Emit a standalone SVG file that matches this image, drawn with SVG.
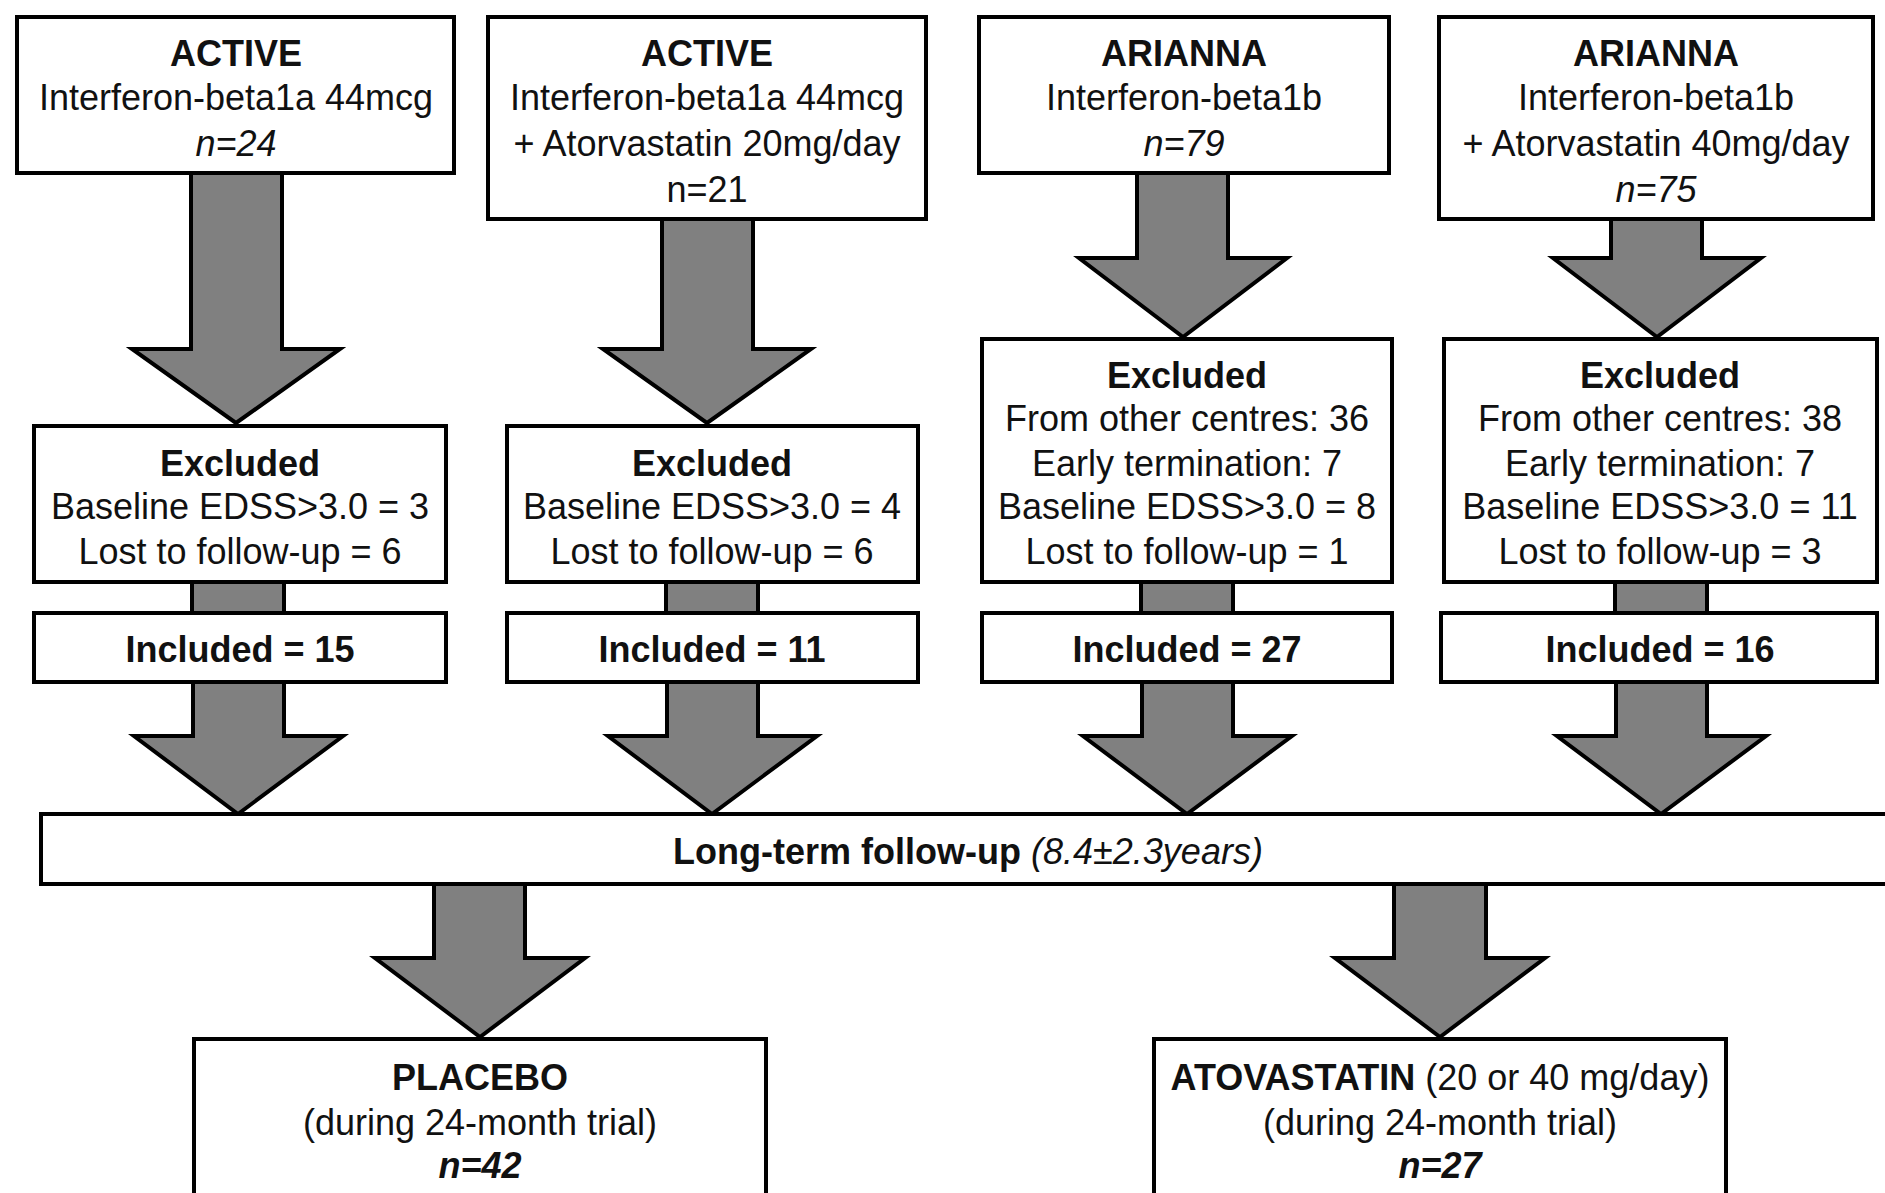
<svg xmlns="http://www.w3.org/2000/svg" width="1885" height="1193" viewBox="0 0 1885 1193">
<style>
.box{fill:#fff;stroke:#000;stroke-width:4}
.arr{fill:#808080;stroke:#000;stroke-width:4;stroke-linejoin:miter}
text{font-family:"Liberation Sans",Arial,sans-serif;font-size:36px;fill:#111;text-anchor:middle}
.b{font-weight:bold}
.i{font-style:italic}
</style>
<rect width="1885" height="1193" fill="#fff"/>
<g id="connectors">
<polygon class="arr" points="191,171 282,171 282,349 340,349 236,423 132,349 191,349"/>
<polygon class="arr" points="662,217 753,217 753,349 811,349 707,423 603,349 662,349"/>
<polygon class="arr" points="1137,171 1228,171 1228,258 1287,258 1183,337 1079,258 1137,258"/>
<polygon class="arr" points="1611,217 1702,217 1702,258 1761,258 1657,337 1553,258 1611,258"/>
<rect class="arr" x="192" y="580" width="92" height="35"/>
<rect class="arr" x="666" y="580" width="92" height="35"/>
<rect class="arr" x="1141" y="580" width="92" height="35"/>
<rect class="arr" x="1615" y="580" width="92" height="35"/>
<polygon class="arr" points="193,680 284,680 284,736 343,736 238,814 134,736 193,736"/>
<polygon class="arr" points="667,680 758,680 758,736 817,736 712,814 608,736 667,736"/>
<polygon class="arr" points="1142,680 1233,680 1233,736 1292,736 1187,814 1083,736 1142,736"/>
<polygon class="arr" points="1616,680 1707,680 1707,736 1766,736 1661,814 1557,736 1616,736"/>
<polygon class="arr" points="434,882 525,882 525,958 585,958 480,1037 375,958 434,958"/>
<polygon class="arr" points="1394,882 1486,882 1486,958 1545,958 1440,1037 1335,958 1394,958"/>
</g>
<g id="n1">
<rect class="box" x="17" y="17" width="437" height="156"/>
<text x="236" y="66" class="b">ACTIVE</text>
<text x="236" y="110">Interferon-beta1a 44mcg</text>
<text x="236" y="156" class="i">n=24</text>
</g>
<g id="n2">
<rect class="box" x="488" y="17" width="438" height="202"/>
<text x="707" y="66" class="b">ACTIVE</text>
<text x="707" y="110">Interferon-beta1a 44mcg</text>
<text x="707" y="156">+ Atorvastatin 20mg/day</text>
<text x="707" y="202">n=21</text>
</g>
<g id="n3">
<rect class="box" x="979" y="17" width="410" height="156"/>
<text x="1184" y="66" class="b">ARIANNA</text>
<text x="1184" y="110">Interferon-beta1b</text>
<text x="1184" y="156" class="i">n=79</text>
</g>
<g id="n4">
<rect class="box" x="1439" y="17" width="434" height="202"/>
<text x="1656" y="66" class="b">ARIANNA</text>
<text x="1656" y="110">Interferon-beta1b</text>
<text x="1656" y="156">+ Atorvastatin 40mg/day</text>
<text x="1656" y="202" class="i">n=75</text>
</g>
<g id="e1">
<rect class="box" x="34" y="426" width="412" height="156"/>
<text x="240" y="476" class="b">Excluded</text>
<text x="240" y="519">Baseline EDSS&gt;3.0 = 3</text>
<text x="240" y="564">Lost to follow-up = 6</text>
</g>
<g id="e2">
<rect class="box" x="507" y="426" width="411" height="156"/>
<text x="712" y="476" class="b">Excluded</text>
<text x="712" y="519">Baseline EDSS&gt;3.0 = 4</text>
<text x="712" y="564">Lost to follow-up = 6</text>
</g>
<g id="e3">
<rect class="box" x="982" y="339" width="410" height="243"/>
<text x="1187" y="388" class="b">Excluded</text>
<text x="1187" y="431">From other centres: 36</text>
<text x="1187" y="476">Early termination: 7</text>
<text x="1187" y="519">Baseline EDSS&gt;3.0 = 8</text>
<text x="1187" y="564">Lost to follow-up = 1</text>
</g>
<g id="e4">
<rect class="box" x="1444" y="339" width="433" height="243"/>
<text x="1660" y="388" class="b">Excluded</text>
<text x="1660" y="431">From other centres: 38</text>
<text x="1660" y="476">Early termination: 7</text>
<text x="1660" y="519">Baseline EDSS&gt;3.0 = 11</text>
<text x="1660" y="564">Lost to follow-up = 3</text>
</g>
<g id="i1">
<rect class="box" x="34" y="613" width="412" height="69"/>
<text x="240" y="662" class="b">Included = 15</text>
</g>
<g id="i2">
<rect class="box" x="507" y="613" width="411" height="69"/>
<text x="712" y="662" class="b">Included = 11</text>
</g>
<g id="i3">
<rect class="box" x="982" y="613" width="410" height="69"/>
<text x="1187" y="662" class="b">Included = 27</text>
</g>
<g id="i4">
<rect class="box" x="1441" y="613" width="436" height="69"/>
<text x="1660" y="662" class="b">Included = 16</text>
</g>
<g id="lt">
<rect class="box" x="41" y="814" width="1860" height="70"/>
<text x="968" y="864"><tspan class="b">Long-term follow-up </tspan><tspan class="i">(8.4±2.3years)</tspan></text>
</g>
<g id="placebo">
<rect class="box" x="194" y="1039" width="572" height="170"/>
<text x="480" y="1090" class="b">PLACEBO</text>
<text x="480" y="1135">(during 24-month trial)</text>
<text x="480" y="1178" class="b i">n=42</text>
</g>
<g id="atorva">
<rect class="box" x="1154" y="1039" width="572" height="170"/>
<text x="1440" y="1090"><tspan class="b">ATOVASTATIN</tspan> (20 or 40 mg/day)</text>
<text x="1440" y="1135">(during 24-month trial)</text>
<text x="1440" y="1178" class="b i">n=27</text>
</g>
</svg>
